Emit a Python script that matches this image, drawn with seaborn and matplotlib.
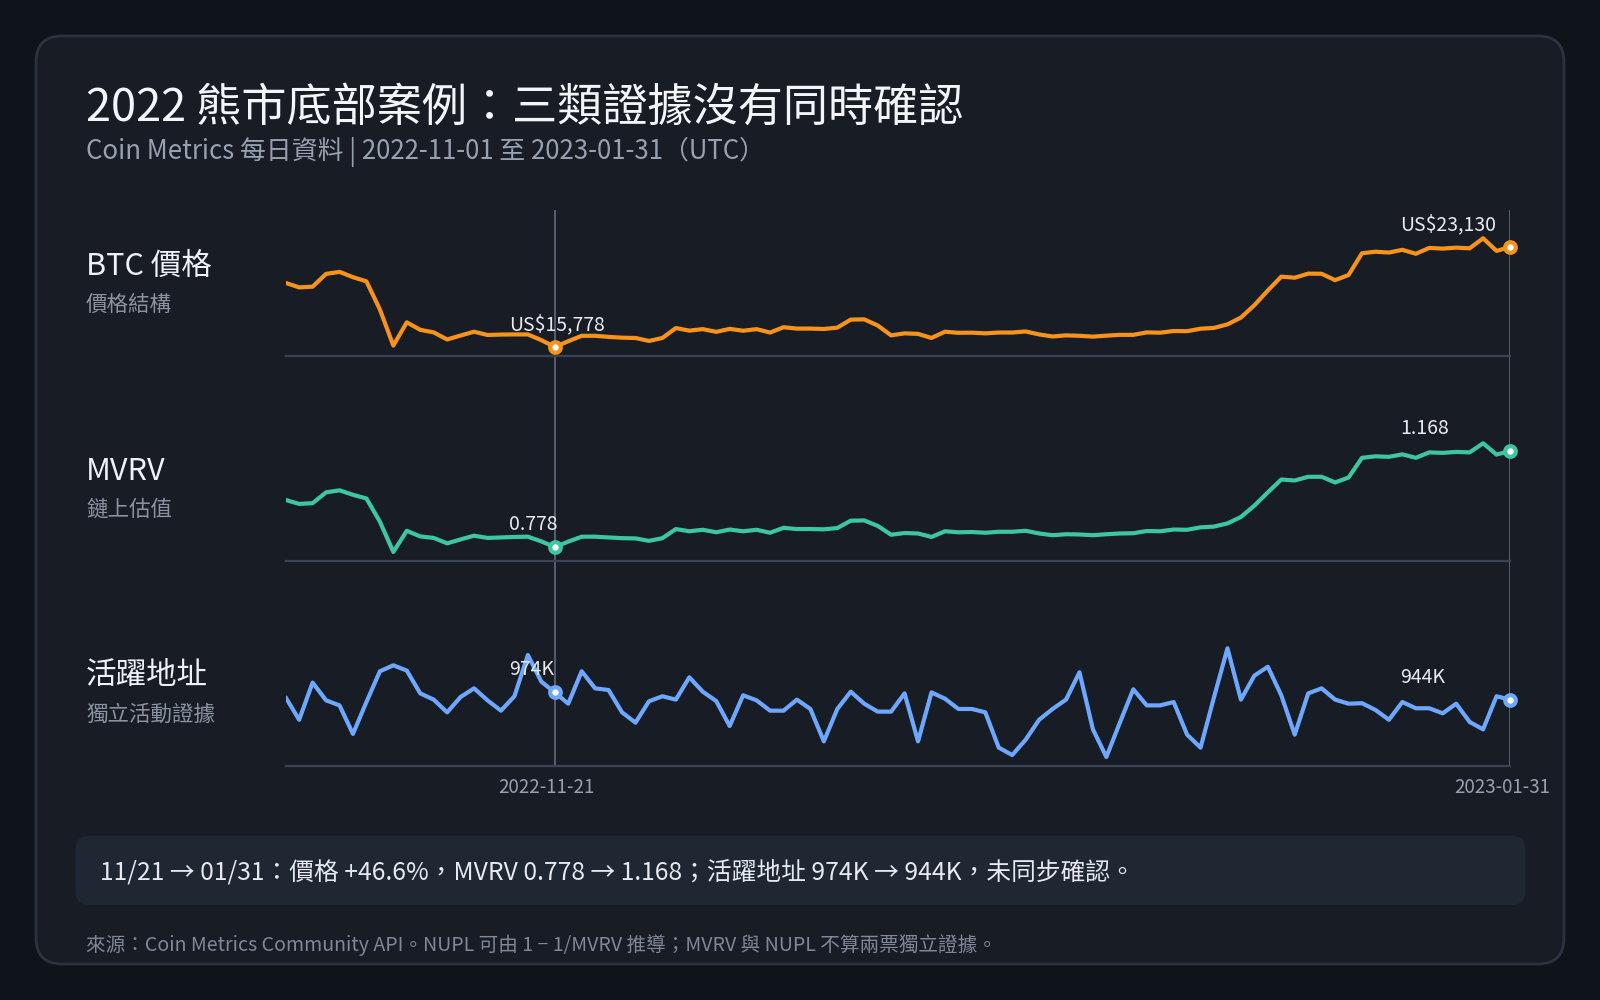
import pandas as pd
import matplotlib
matplotlib.use("Agg")
import matplotlib.pyplot as plt
import seaborn as sns
from matplotlib.patches import FancyBboxPatch
from matplotlib.transforms import ScaledTranslation

# daily data, 2022-11-01 .. 2023-01-31
dates = pd.date_range("2022-11-01", "2023-01-31", freq="D")

price = [20490, 20160, 20210, 21150, 21300, 20910, 20600, 18540, 15880, 17590,
         17040, 16850, 16330, 16620, 16900, 16660, 16690, 16700, 16700, 16280,
         15778, 16200, 16600, 16600, 16520, 16460, 16440, 16220, 16440, 17170,
         16980, 17090, 16890, 17110, 16970, 17090, 16840, 17230, 17130, 17130,
         17100, 17200, 17790, 17810, 17360, 16630, 16780, 16740, 16440, 16900,
         16820, 16830, 16780, 16840, 16840, 16920, 16700, 16550, 16630, 16600,
         16540, 16610, 16670, 16670, 16850, 16830, 16950, 16940, 17120, 17180,
         17440, 17940, 18850, 19930, 20950, 20870, 21170, 21160, 20690, 21070,
         22670, 22780, 22720, 22920, 22630, 23060, 23010, 23080, 23030, 23770,
         22840, 23130]

mvrv = [0.969, 0.953, 0.956, 1.000, 1.008, 0.990, 0.975, 0.881, 0.758, 0.844,
        0.821, 0.815, 0.793, 0.809, 0.824, 0.815, 0.817, 0.819, 0.820, 0.801,
        0.778, 0.800, 0.820, 0.820, 0.817, 0.814, 0.813, 0.803, 0.814, 0.851,
        0.842, 0.848, 0.838, 0.849, 0.842, 0.848, 0.836, 0.856, 0.851, 0.851,
        0.850, 0.855, 0.885, 0.886, 0.864, 0.828, 0.835, 0.833, 0.819, 0.842,
        0.838, 0.839, 0.836, 0.840, 0.840, 0.844, 0.833, 0.826, 0.830, 0.829,
        0.826, 0.830, 0.833, 0.834, 0.843, 0.842, 0.849, 0.848, 0.858, 0.861,
        0.874, 0.900, 0.946, 1.000, 1.052, 1.048, 1.063, 1.063, 1.040, 1.060,
        1.140, 1.146, 1.144, 1.154, 1.140, 1.162, 1.160, 1.164, 1.162, 1.199,
        1.153, 1.168]

# active addresses, thousands
active_k = [953, 860, 1015, 941, 920, 801, 934, 1062, 1087, 1065,
            970, 944, 891, 955, 991, 941, 898, 958, 1130, 1019,
            974, 927, 1062, 991, 984, 891, 848, 937, 958, 944,
            1037, 977, 938, 834, 962, 941, 898, 898, 944, 905,
            770, 905, 977, 927, 894, 894, 970, 770, 974, 948,
            905, 905, 891, 744, 713, 777, 860, 905, 944, 1058,
            820, 705, 848, 987, 920, 920, 934, 798, 744, 954,
            1158, 944, 1044, 1081, 962, 798, 970, 991, 944, 927,
            929, 901, 860, 934, 908, 908, 887, 927, 851, 820,
            958, 944]

focus_day = pd.Timestamp("2022-11-21")

df = pd.DataFrame({"date": dates, "price": price, "mvrv": mvrv, "active": active_k})
i0 = int(df.index[df["date"] == focus_day][0])

sns.set_theme(style="dark")
plt.rcParams["font.family"] = ["Noto Sans CJK TC", "DejaVu Sans"]
plt.rcParams["axes.unicode_minus"] = False

BG = "#0f131a"
CARD = "#181c25"
WHITE = "#eef1f6"
GREY = "#98a1b0"

fig = plt.figure(figsize=(16, 10), dpi=100, facecolor=BG)

# pixel canvas for card, titles and notes
canvas = fig.add_axes([0, 0, 1, 1])
canvas.set_xlim(0, 1600)
canvas.set_ylim(1000, 0)
canvas.axis("off")
canvas.add_patch(FancyBboxPatch((36, 36), 1528, 928, boxstyle="round,pad=0,rounding_size=26",
                                fc=CARD, ec="#2b3240", lw=2))
canvas.text(86, 120.7, "2022 熊市底部案例：三類證據沒有同時確認", fontsize=32.5,
            color="#f3f5f8", va="baseline")
canvas.text(86, 159.3, "Coin Metrics 每日資料 | 2022-11-01 至 2023-01-31（UTC）", fontsize=18.6,
            color=GREY, va="baseline")

L = 285.7 / 1600
W = (1510 - 285.7) / 1600
H = 146 / 1000

# guide lines crossing all three panels
guide = fig.add_axes([L, 1 - 766 / 1000, W, (766 - 210) / 1000])
guide.set_xlim(dates[0], dates[-1])
guide.axis("off")
for d in [focus_day, dates[-1]]:
    guide.axvline(d, color="#566072", lw=1.4)

rows = [
    ("price", "BTC 價格", "價格結構", "#f7931a", 356, lambda v: f"US${v:,.0f}"),
    ("mvrv", "MVRV", "鏈上估值", "#3cc7a0", 561, lambda v: f"{v:.3f}"),
    ("active", "活躍地址", "獨立活動證據", "#6ea8fe", 766, lambda v: f"{v:.0f}K"),
]

for col, name, sub, color, bottom, fmt in rows:
    ax = fig.add_axes([L, 1 - bottom / 1000, W, H])
    ax.set_facecolor("none")
    sns.lineplot(data=df, x="date", y=col, ax=ax, color=color, lw=3)
    vals = df[col]
    lo_v, hi_v = vals.min(), vals.max()
    rng = hi_v - lo_v
    lo = lo_v - 0.083 * rng
    ax.set_ylim(lo, lo + 1.343 * rng)
    ax.set_xlim(dates[0], dates[-1])
    for s in ["top", "left", "right"]:
        ax.spines[s].set_visible(False)
    ax.spines["bottom"].set_color("#3a4354")
    ax.spines["bottom"].set_linewidth(1.6)
    ax.set_yticks([])
    ax.set_xlabel("")
    ax.set_ylabel("")

    pts = df.iloc[[i0, len(df) - 1]]
    ax.scatter(pts["date"], pts[col], s=58, facecolor="white", edgecolor=color,
               linewidths=3, zorder=5, clip_on=False)
    for (d, v), dx in zip(pts[["date", col]].values, [-33, -79]):
        ax.annotate(fmt(v), (d, v), xytext=(dx, 12.2), textcoords="offset points",
                    ha="left", va="baseline", fontsize=14, color="#e8ebf0")

    if col == "active":
        ax.set_xticks([focus_day, dates[-1]])
        ax.set_xticklabels([focus_day.strftime("%Y-%m-%d"), dates[-1].strftime("%Y-%m-%d")])
        ax.tick_params(axis="x", length=0, pad=8, labelsize=13.5, labelcolor=GREY)
        shift = ScaledTranslation(-8 / 100, 0, fig.dpi_scale_trans)
        for lab in ax.get_xticklabels():
            lab.set_transform(lab.get_transform() + shift)
    else:
        ax.set_xticks([])

    canvas.text(86, bottom - 90, name, fontsize=22, color=WHITE, va="center")
    canvas.text(86, bottom - 51, sub, fontsize=15.5, color="#8b93a1", va="center")

# summary box
pct = (price[-1] / price[i0] - 1) * 100
note = (f"{focus_day:%m/%d} → {dates[-1]:%m/%d}：價格 {pct:+.1f}%，"
        f"MVRV {mvrv[i0]:.3f} → {mvrv[-1]:.3f}；"
        f"活躍地址 {active_k[i0]}K → {active_k[-1]}K，未同步確認。")
canvas.add_patch(FancyBboxPatch((75.5, 835.7), 1450, 69.3, boxstyle="round,pad=0,rounding_size=14",
                                fc="#1f2733", ec="none"))
canvas.text(100, 873, note, fontsize=17.8, color="#e6e9ef", va="center")

canvas.text(86, 945, "來源：Coin Metrics Community API。NUPL 可由 1 − 1/MVRV 推導；MVRV 與 NUPL 不算兩票獨立證據。",
            fontsize=14.1, color="#7f8898", va="center")

fig.savefig("out.png", dpi=100, facecolor=BG)
